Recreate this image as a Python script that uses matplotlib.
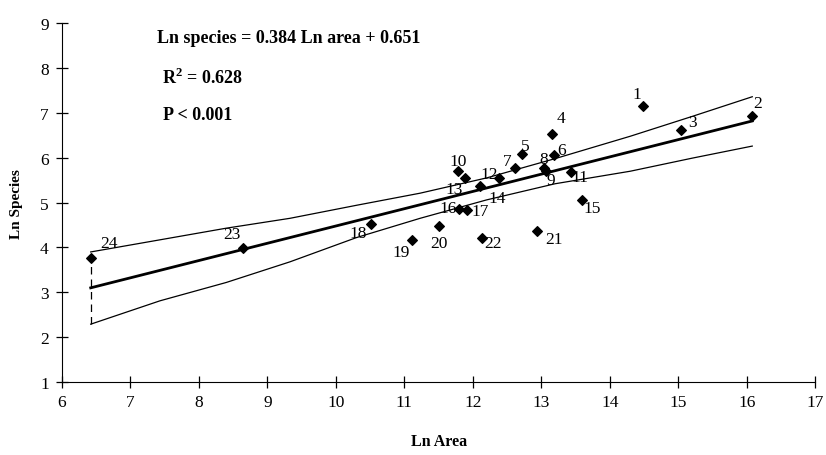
import numpy as np
import matplotlib
matplotlib.use("Agg")
import matplotlib.pyplot as plt

plt.rcParams['font.family'] = ['Liberation Serif', 'DejaVu Serif']
plt.rcParams['mathtext.fontset'] = 'custom'
plt.rcParams['mathtext.rm'] = 'Liberation Serif'
plt.rcParams['mathtext.bf'] = 'Liberation Serif:bold'

# site numbers, ln area, ln species
site = [1, 2, 3, 4, 5, 6, 7, 8, 9, 10, 11, 12,
        13, 14, 15, 16, 17, 18, 19, 20, 21, 22, 23, 24]
ln_area = [14.49, 16.08, 15.04, 13.16, 12.72, 13.19, 12.61, 13.04, 13.07, 11.78, 13.43, 12.38,
           11.89, 12.11, 13.60, 11.80, 11.91, 10.51, 11.11, 11.51, 12.93, 12.14, 8.65, 6.42]
ln_species = [7.16, 6.92, 6.61, 6.53, 6.09, 6.07, 5.77, 5.78, 5.71, 5.70, 5.69, 5.54,
              5.54, 5.37, 5.05, 4.85, 4.84, 4.53, 4.17, 4.47, 4.37, 4.21, 3.98, 3.76]
# where each number label sits
label_x = [14.40, 16.16, 15.21, 13.28, 12.76, 13.29, 12.50, 13.03, 13.14, 11.79, 13.57, 12.24,
           11.72, 12.35, 13.74, 11.64, 12.11, 10.33, 10.96, 11.50, 13.19, 12.29, 8.48, 6.68]
label_y = [7.43, 7.22, 6.79, 6.88, 6.26, 6.18, 5.93, 5.98, 5.50, 5.93, 5.56, 5.63,
           5.30, 5.11, 4.87, 4.89, 4.82, 4.33, 3.89, 4.09, 4.18, 4.09, 4.30, 4.09]

# regression line and its confidence band
fit_x = [6.42, 16.08]
fit_y = [3.10, 6.82]
band_x = [6.42, 7.43, 8.4, 9.33, 10.3, 11.23, 12.2, 13.2, 14.3, 15.2, 16.08]
band_hi = [3.90, 4.17, 4.43, 4.65, 4.94, 5.21, 5.55, 5.98, 6.48, 6.92, 7.36]
band_lo = [2.29, 2.81, 3.22, 3.68, 4.22, 4.65, 5.06, 5.42, 5.70, 5.99, 6.26]

fig = plt.figure(figsize=(8.26, 4.56), dpi=100)
ax = fig.add_axes([0.075, 0.160, 0.912, 0.787])

ax.plot(band_x, band_hi, color='black', lw=0.9)
ax.plot(band_x, band_lo, color='black', lw=0.9)
ax.plot(fit_x, fit_y, color='black', lw=2)
ax.plot([ln_area[-1], ln_area[-1]], [band_lo[0], ln_species[-1]],
        color='black', lw=0.9, linestyle=(0, (6, 4)))
ax.scatter(ln_area, ln_species, marker='D', s=24, color='black', zorder=5)

for s, lx, ly in zip(site, label_x, label_y):
    ax.text(lx, ly, str(s), fontsize=12.5, ha='center', va='center')

ax.text(7.39, 8.67, 'Ln species = 0.384 Ln area + 0.651', fontsize=13,
        fontweight='bold', va='center')
ax.text(7.46, 7.80, r'R$^\mathbf{2}$ = 0.628', fontsize=13,
        fontweight='bold', va='center')
ax.text(7.48, 6.97, 'P < 0.001', fontsize=13, fontweight='bold', va='center')

ax.set_xlim(6, 17)
ax.set_ylim(1, 9)
ax.set_xticks(range(6, 18))
ax.set_yticks(range(1, 10))
ax.spines['top'].set_visible(False)
ax.spines['right'].set_visible(False)
ax.tick_params(direction='inout', length=9, width=0.9, labelsize=12.5)
ax.tick_params(axis='x', pad=4)
ax.tick_params(axis='y', pad=5)
ax.set_xlabel('Ln Area', fontsize=11.5, fontweight='bold', labelpad=17)
ax.set_ylabel('Ln Species', fontsize=11, fontweight='bold', labelpad=12)

fig.savefig('out.png', dpi=100)
